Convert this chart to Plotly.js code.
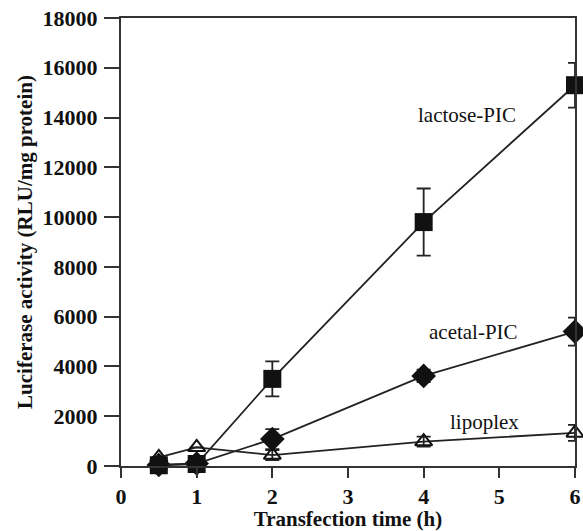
<!DOCTYPE html>
<html>
<head>
<meta charset="utf-8">
<script src="https://cdn.plot.ly/plotly-3.0.1.min.js"></script>
<style>html,body{margin:0;padding:0;background:#fff;}#chart{width:583px;height:531px;}</style>
</head>
<body>
<div id="chart"></div>
<script>
const timeH = [0.5, 1, 2, 4, 6];
const lactoseVals = [30, 80, 3500, 9800, 15300];
const lactoseErr = [0, 0, 700, 1350, 900];
const acetalVals = [40, 100, 1080, 3620, 5400];
const acetalErr = [0, 0, 400, 250, 560];
const lipoplexVals = [350, 750, 440, 980, 1330];
const lipoplexErr = [0, 0, 200, 200, 320];
const seriesNames = ["lactose-PIC", "acetal-PIC", "lipoplex"];
const xTicks = [0, 1, 2, 3, 4, 5, 6];
const yTicks = [0, 2000, 4000, 6000, 8000, 10000, 12000, 14000, 16000, 18000];

const errStyle = (arr) => ({type: 'data', array: arr, visible: true, color: '#222', thickness: 1.8, width: 7});
const serif = 'Liberation Serif, Times New Roman, serif';

const traces = [
  {x: timeH, y: lipoplexVals, name: seriesNames[2], mode: 'lines+markers', cliponaxis: false,
   line: {color: '#222', width: 1.8},
   marker: {symbol: 'triangle-up-open', size: 15, color: '#111', line: {width: 2, color: '#111'}},
   error_y: errStyle(lipoplexErr)},
  {x: timeH, y: acetalVals, name: seriesNames[1], mode: 'lines+markers', cliponaxis: false,
   line: {color: '#222', width: 1.8},
   marker: {symbol: 'diamond', size: 19, color: '#111'},
   error_y: errStyle(acetalErr)},
  {x: timeH, y: lactoseVals, name: seriesNames[0], mode: 'lines+markers', cliponaxis: false,
   line: {color: '#222', width: 1.8},
   marker: {symbol: 'square', size: 18, color: '#111'},
   error_y: errStyle(lactoseErr)}
];

const tickFont = {family: serif, size: 22, color: '#111', weight: 'bold'};
const titleFont = {family: serif, size: 21, color: '#111', weight: 'bold'};
const annFont = {family: serif, size: 21, color: '#111'};

const layout = {
  width: 583, height: 531,
  margin: {l: 121, r: 8, t: 18, b: 65},
  paper_bgcolor: '#fff', plot_bgcolor: '#fff',
  showlegend: false,
  xaxis: {
    range: [0, 6], tickvals: xTicks, ticktext: xTicks.map(String),
    showgrid: false, zeroline: false, showline: true, mirror: true,
    linecolor: '#333', linewidth: 2, ticks: 'outside', ticklen: 10, tickwidth: 2, tickcolor: '#333',
    tickfont: tickFont, automargin: false,
    title: {text: 'Transfection time (h)', font: titleFont, standoff: 0}
  },
  yaxis: {
    range: [0, 18000], tickvals: yTicks, ticktext: yTicks.map(String),
    showgrid: false, zeroline: false, showline: true, mirror: true,
    linecolor: '#333', linewidth: 2, ticks: 'outside', ticklen: 15, tickwidth: 2, tickcolor: '#333',
    tickfont: tickFont, automargin: false, ticklabelstandoff: 2,
    title: {text: 'Luciferase activity (RLU/mg protein)', font: titleFont, standoff: 4}
  },
  annotations: [
    {x: 4.57, y: 14100, xref: 'x', yref: 'y', text: seriesNames[0], showarrow: false, font: annFont},
    {x: 4.66, y: 5380, xref: 'x', yref: 'y', text: seriesNames[1], showarrow: false, font: annFont},
    {x: 4.8, y: 1770, xref: 'x', yref: 'y', text: seriesNames[2], showarrow: false, font: annFont}
  ]
};

Plotly.newPlot('chart', traces, layout, {displayModeBar: false, staticPlot: true});
</script>
</body>
</html>
